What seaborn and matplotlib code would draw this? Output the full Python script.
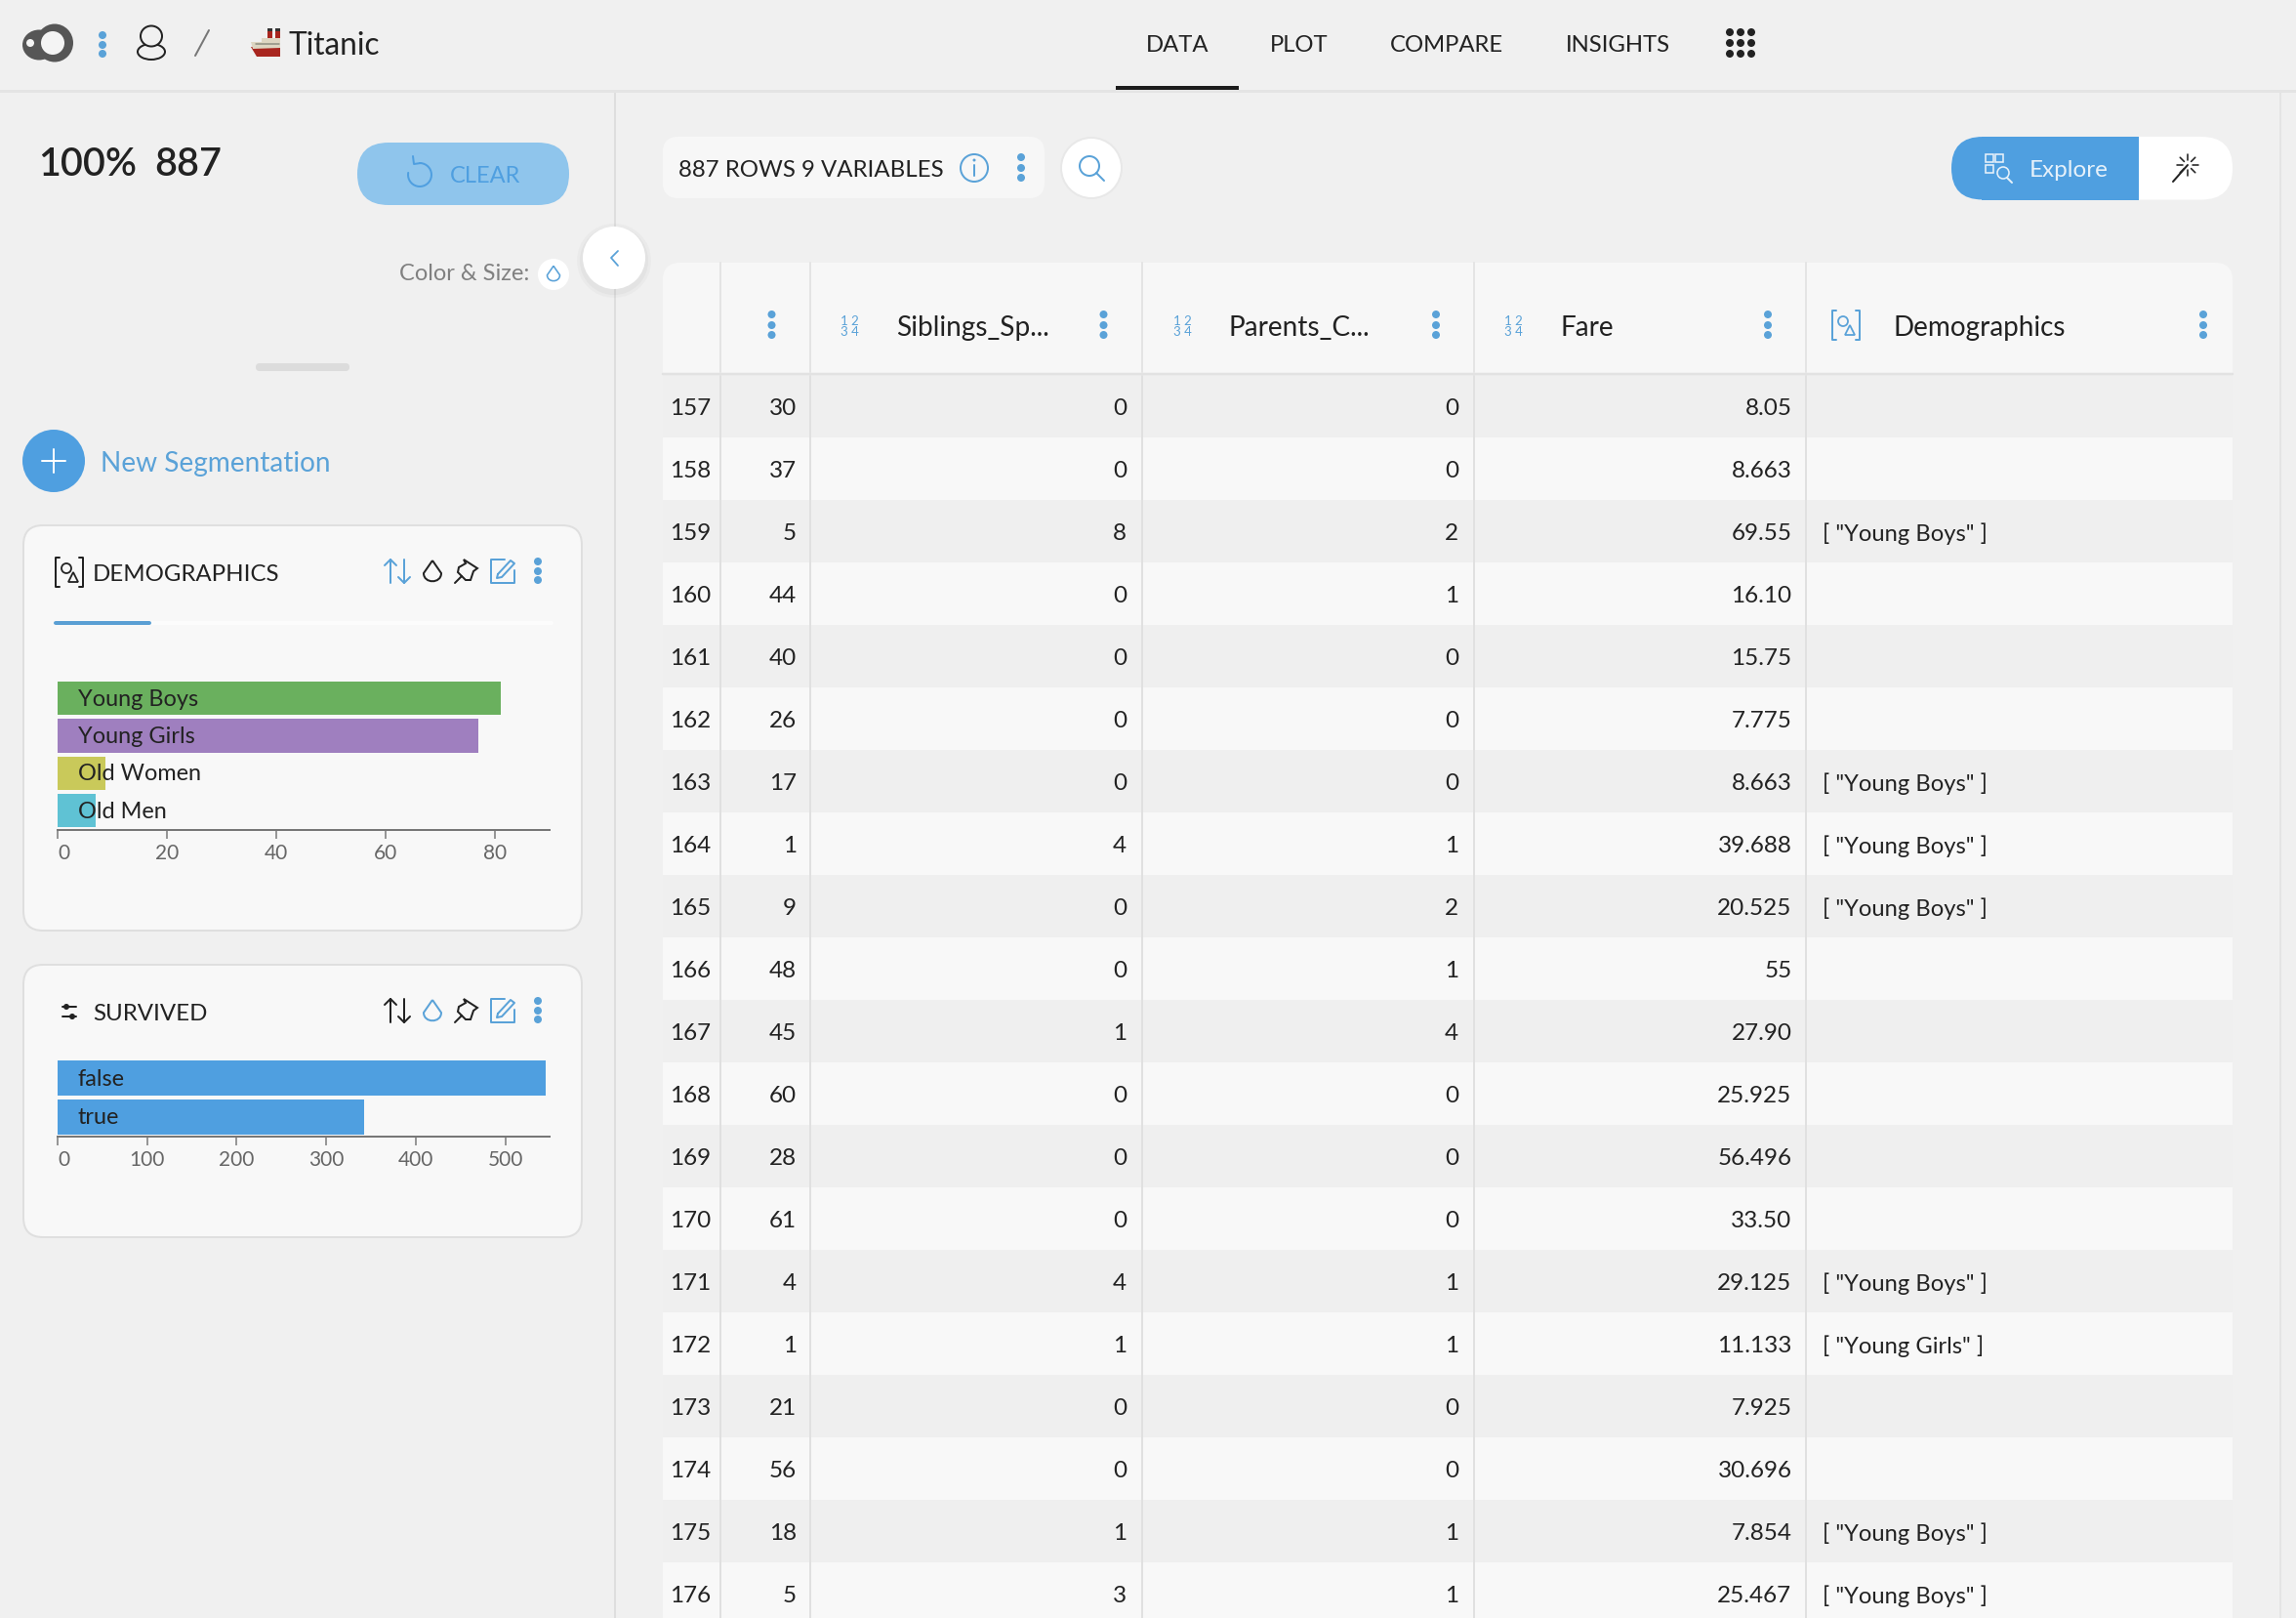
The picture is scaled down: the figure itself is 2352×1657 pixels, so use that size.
import numpy as np
import pandas as pd
import matplotlib
matplotlib.use('Agg')
import matplotlib.pyplot as plt
import seaborn as sns
from matplotlib.patches import Circle, Ellipse, FancyBboxPatch, PathPatch, Polygon, Rectangle
from matplotlib.path import Path

W, H = 2352, 1658

BG      = '#f0f0f0'
PANEL   = '#f8f8f8'
BLUE    = '#4f9fe0'
ICON    = '#5aa2d8'
INK     = '#222222'

# Left panel data
DEMO_LABELS = ['Young Boys', 'Young Girls', 'Old Women', 'Old Men']
DEMO_VALUES = [81, 77, 8.8, 7]
DEMO_COLORS = ['#6ab05e', '#9f7fbf', '#c9c95a', '#5fc2d4']
DEMO_TICKS  = [0, 20, 40, 60, 80]

SURV_LABELS = ['false', 'true']
SURV_VALUES = [545, 342]
SURV_TICKS  = [0, 100, 200, 300, 400, 500]

# Table data
ROW_IDS  = list(range(157, 177))
AGE      = [30, 37, 5, 44, 40, 26, 17, 1, 9, 48, 45, 60, 28, 61, 4, 1, 21, 56, 18, 5]
SIBLINGS = [0, 0, 8, 0, 0, 0, 0, 4, 0, 0, 1, 0, 0, 0, 4, 1, 0, 0, 1, 3]
PARENTS  = [0, 0, 2, 1, 0, 0, 0, 1, 2, 1, 4, 0, 0, 0, 1, 1, 0, 0, 1, 1]
FARE     = ['8.05', '8.663', '69.55', '16.10', '15.75', '7.775', '8.663', '39.688',
            '20.525', '55', '27.90', '25.925', '56.496', '33.50', '29.125', '11.133',
            '7.925', '30.696', '7.854', '25.467']
DEMO_COL = ['', '', '[ "Young Boys" ]', '', '', '', '[ "Young Boys" ]', '[ "Young Boys" ]',
            '[ "Young Boys" ]', '', '', '', '', '', '[ "Young Boys" ]', '[ "Young Girls" ]',
            '', '', '[ "Young Boys" ]', '[ "Young Boys" ]']

NAV_ITEMS = ['DATA', 'PLOT', 'COMPARE', 'INSIGHTS']
NAV_X     = [1206, 1331, 1482, 1657]

sns.set_theme(style='white')
plt.rcParams['font.family'] = ['Lato', 'DejaVu Sans']
plt.rcParams['savefig.facecolor'] = BG

fig = plt.figure(figsize=(W / 100, H / 100), dpi=100, facecolor=BG)
ui = fig.add_axes([0, 0, 1, 1])
ui.set_xlim(0, W)
ui.set_ylim(H, 0)
ui.axis('off')


# Small drawing helpers, all in screen pixels

def px(v):
    return v * 0.72


def txt(x, y, s, size=17, color=INK, ha='left', weight='normal', zorder=6):
    ui.text(x, y, s, fontsize=size, color=color, ha=ha, va='center_baseline',
            fontweight=weight, zorder=zorder)


def box(x0, y0, x1, y1, radius=0, fc=PANEL, ec='none', lw=0, zorder=2):
    if radius:
        p = FancyBboxPatch((x0 + radius, y0 + radius), x1 - x0 - 2 * radius, y1 - y0 - 2 * radius,
                           boxstyle=f'round,pad={radius}', fc=fc, ec=ec, lw=px(lw), zorder=zorder)
    else:
        p = Rectangle((x0, y0), x1 - x0, y1 - y0, fc=fc, ec=ec, lw=px(lw), zorder=zorder)
    ui.add_patch(p)


def line(xs, ys, color=INK, lw=2, zorder=7):
    ui.plot(xs, ys, color=color, lw=px(lw), solid_capstyle='round', solid_joinstyle='round', zorder=zorder)


def dots(x, ys, color=ICON, r=4):
    for y in ys:
        ui.add_patch(Circle((x, y), r, fc=color, ec='none', zorder=7))


def drop(x, y, color=INK, s=1.0, lw=2):
    verts = [(x, y - 12 * s), (x - 9 * s, y + 1 * s), (x - 9 * s, y + 12 * s), (x + 9 * s, y + 12 * s),
             (x + 9 * s, y + 1 * s), (x, y - 12 * s)]
    codes = [Path.MOVETO, Path.LINETO, Path.CURVE4, Path.CURVE4, Path.CURVE4, Path.LINETO]
    ui.add_patch(PathPatch(Path(verts, codes), fc='none', ec=color, lw=px(lw), zorder=7))


def sort_arrows(x, y, left, right):
    line([x - 7, x - 7], [y - 12, y + 12], left)
    line([x - 13, x - 7, x - 1], [y - 6, y - 12, y - 6], left)
    line([x + 7, x + 7], [y - 12, y + 12], right)
    line([x + 1, x + 7, x + 13], [y + 6, y + 12, y + 6], right)


def pin(x, y):
    pts = [(-3, -12), (11, -3), (7, 0), (4, 9), (-1, 9), (-9, 1), (-8, -4), (-1, -8)]
    ui.add_patch(Polygon([(x + a, y + b) for a, b in pts], closed=True, fc='none', ec=INK, lw=px(2), zorder=7))
    line([x - 5, x - 12], [y + 5, y + 12])


def edit(x, y):
    line([x + 2, x - 12, x - 12, x + 12, x + 12], [y - 12, y - 12, y + 12, y + 12, y - 1], ICON)
    line([x - 5, x + 8, x + 12, x - 1, x - 6, x - 5], [y + 3, y - 11, y - 8, y + 6, y + 7, y + 3], ICON)


def shapes_icon(x, y, color):
    line([x - 10, x - 14, x - 14, x - 10], [y - 15, y - 15, y + 15, y + 15], color)
    line([x + 10, x + 14, x + 14, x + 10], [y - 15, y - 15, y + 15, y + 15], color)
    ui.add_patch(Circle((x - 3, y - 4), 5, fc='none', ec=color, lw=px(1.8), zorder=7))
    ui.add_patch(Polygon([(x + 4, y), (x + 9, y + 10), (x - 1, y + 10)], closed=True, fc='none', ec=color, lw=px(1.8), zorder=7))


def num_icon(x, y):
    ui.text(x, y - 5.5, '1 2', fontsize=9.5, color=ICON, ha='center', va='center', zorder=6)
    ui.text(x, y + 5.5, '3 4', fontsize=9.5, color=ICON, ha='center', va='center', zorder=6)


# Header bar

line([0, W], [94, 94], '#e4e4e4', 3, zorder=3)
box(1143, 89, 1269, 93, fc='#1c1c1c', zorder=4)
for name, x in zip(NAV_ITEMS, NAV_X):
    txt(x, 44, name, size=17.2, ha='center')
for gx in (1772, 1783, 1794):
    dots(gx, (34, 45, 56), INK, r=4)

# logo blob
ui.add_patch(Ellipse((56, 45), 38, 39, fc='#565656', ec='none', zorder=5))
ui.add_patch(Ellipse((40, 47), 34, 31, fc='#565656', ec='none', zorder=5))
ui.add_patch(Circle((54, 45), 12, fc='#f4f4f4', ec='none', zorder=6))
ui.add_patch(Circle((31, 45), 4, fc='#f4f4f4', ec='none', zorder=6))
dots(105, (37, 47, 56), ICON)

# user icon
ui.add_patch(Ellipse((155, 54), 28, 16, fc='none', ec=INK, lw=px(2), zorder=6))
ui.add_patch(Ellipse((155, 38), 22, 21, fc=BG, ec=INK, lw=px(2), zorder=7))
line([214, 200], [32, 58], '#777777', 2)

# ship
ui.add_patch(Polygon([(257, 49), (287, 47), (287, 59), (263, 59)], closed=True, fc='#a8261f', ec='none', zorder=5))
ui.add_patch(Polygon([(257, 44), (268, 44), (268, 40), (287, 40), (287, 50), (259, 51)], closed=True, fc='#ddd6c2', ec='none', zorder=6))
line([262, 286], [46, 46], '#8d8d80', 1.5)
box(274, 31, 279, 40, fc='#a8261f', zorder=6)
box(282, 31, 287, 40, fc='#a8261f', zorder=6)
box(274, 30, 279, 33, fc='#333333', zorder=6.5)
box(282, 30, 287, 33, fc='#333333', zorder=6.5)
txt(295, 44, 'Titanic', size=22.8)

# Left panel

txt(39, 165, '100%', size=28.5, weight='semibold')
txt(158, 165, '887', size=28.5, weight='semibold')

box(366, 147, 583, 211, radius=32, fc='#8fc5ec')
txt(461, 178, 'CLEAR', size=17, color=BLUE)
theta = np.radians(np.arange(-90, 200, 10))
line(430 + 12 * np.cos(theta), 180 + 12 * np.sin(theta), BLUE)
line([423, 424, 431], [161, 169, 168], BLUE)

txt(542, 278, 'Color & Size:', size=17, color='#808080', ha='right')
ui.add_patch(Circle((567, 282), 16, fc='white', ec='none', zorder=4))
drop(567, 282, ICON, s=0.72, lw=1.6)

box(262, 373, 358, 381, radius=4, fc='#dcdcdc')

ui.add_patch(Circle((55, 473), 32, fc=BLUE, ec='none', zorder=4))
line([43, 67], [473, 473], 'white')
line([55, 55], [461, 485], 'white')
txt(103, 472, 'New Segmentation', size=20.2, color=ICON)

box(24, 539, 596, 954, radius=20, fc=PANEL, ec='#dfdfdf', lw=2)
box(24, 989, 596, 1268, radius=20, fc=PANEL, ec='#dfdfdf', lw=2)

shapes_icon(71, 587, INK)
txt(95, 586, 'DEMOGRAPHICS', size=17.3)
sort_arrows(407, 586, ICON, ICON)
drop(443, 587, INK)
pin(478, 586)
edit(515, 586)
dots(551, (576, 586, 595))
line([57, 565], [639, 639], '#fcfcfc', 4, zorder=3)
line([57, 153], [639, 639], '#5a9fd4', 4, zorder=4)

for ly, cx in ((1032, 68), (1042, 74)):
    line([64, 78], [ly, ly], INK, 2)
    ui.add_patch(Circle((cx, ly), 3, fc=INK, ec='none', zorder=7))
txt(95, 1036.5, 'SURVIVED', size=17.3)
sort_arrows(407, 1036, INK, INK)
drop(443, 1037, ICON)
pin(478, 1036)
edit(515, 1036)
dots(551, (1026, 1036, 1045))


# Bar charts

def bar_panel(labels, values, colors, ticks, xmax, top, bottom, width):
    ax = fig.add_axes([59 / W, 1 - bottom / H, (563 - 59) / W, (bottom - top) / H], facecolor='none', zorder=5)
    df = pd.DataFrame({'label': labels, 'value': values})
    sns.barplot(data=df, x='value', y='label', hue='label', palette=colors, order=labels,
                width=width, legend=False, saturation=1, edgecolor='none', linewidth=0, ax=ax)
    sns.despine(ax=ax, left=True)
    ax.set_xlim(0, xmax)
    ax.set_xlabel('')
    ax.set_ylabel('')
    ax.set_yticks([])
    ax.set_xticks(ticks)
    ax.spines['bottom'].set_color('#777777')
    ax.spines['bottom'].set_linewidth(px(2))
    ax.tick_params(axis='x', bottom=True, length=px(9), width=px(1.5), color='#777777',
                   labelsize=15, labelcolor='#666666', pad=px(5))
    ax.get_xticklabels()[0].set_ha('left')
    for i, label in enumerate(labels):
        ax.annotate(label, xy=(0, i), xytext=(px(20.5), px(2)), textcoords='offset points',
                    fontsize=16.9, color=INK, va='center_baseline', ha='left')
    return ax


bar_panel(DEMO_LABELS, DEMO_VALUES, DEMO_COLORS, DEMO_TICKS, 90, 697, 850.5, 0.89)
bar_panel(SURV_LABELS, SURV_VALUES, [BLUE, BLUE], SURV_TICKS, 549.5, 1085.5, 1164.5, 0.9)

# Divider and collapse button

line([630, 630], [94, H], '#dedede', 2, zorder=1)
line([2336, 2336], [94, H], '#e4e4e4', 2, zorder=1)
for r, a in ((38, 0.05), (35, 0.07)):
    ui.add_patch(Circle((629, 268), r, fc='#888888', alpha=a, ec='none', zorder=3))
ui.add_patch(Circle((629, 265), 32, fc='white', ec='none', zorder=4))
line([633, 626, 633], [258, 265, 273], ICON, 1.8)

# Toolbar above table

box(679, 141, 1070, 204, radius=16, fc='#f7f7f7')
txt(695, 172.5, '887 ROWS 9 VARIABLES', size=17.3)
ui.add_patch(Circle((998, 173), 14, fc='none', ec=ICON, lw=px(2), zorder=7))
line([998, 998], [170, 181], ICON, 2)
dots(998, (165,), ICON, r=1.5)
dots(1046, (162, 173, 183))
ui.add_patch(Circle((1118, 173), 31, fc='white', ec='#e8e8e8', lw=px(2), zorder=4))
ui.add_patch(Circle((1116, 171), 10, fc='none', ec=ICON, lw=px(2), zorder=7))
line([1123, 1131], [178, 186], ICON, 2)

box(1999, 141, 2287, 205.5, radius=32, fc='white')
box(1999, 141, 2060, 205.5, radius=32, fc=BLUE, zorder=3)
box(2030, 141, 2191, 205.5, fc=BLUE, zorder=3)
txt(2079, 172.5, 'Explore', size=17.5, color='#e6f1fa')
for bx, by in ((2034, 164), (2044, 164), (2034, 175)):
    ui.add_patch(Rectangle((bx, by - 5), 8, 8, fc='none', ec='#e6f1fa', lw=px(1.6), zorder=7))
ui.add_patch(Circle((2052, 178), 6, fc='none', ec='#e6f1fa', lw=px(1.6), zorder=7))
line([2056, 2061], [183, 188], '#e6f1fa', 2)
line([2226, 2241], [187, 170], INK, 2)
for a in np.radians(np.arange(0, 360, 45)):
    line([2241 + 5 * np.cos(a), 2241 + 11 * np.cos(a)], [170 + 5 * np.sin(a), 170 + 11 * np.sin(a)], INK, 1.6)

# Table

SEPARATORS = [738, 830, 1170, 1510, 1850]
DOTS_X     = [790.5, 1130.5, 1471, 1811, 2257]
TABLE_L, TABLE_R = 679, 2287
ROW_TOP, ROW_H   = 385, 64

box(TABLE_L, 270, TABLE_R, 400, radius=18, fc='#f7f7f7')

for i, row in enumerate(ROW_IDS):
    top = ROW_TOP + i * ROW_H
    box(TABLE_L, top, TABLE_R, top + ROW_H, fc='#efefef' if i % 2 == 0 else PANEL, zorder=2.5)
    y = top + ROW_H / 2 - 0.5
    txt(728.5, y, str(row), size=17.5, ha='right')
    txt(816, y, str(AGE[i]), size=17.5, ha='right')
    txt(1154, y, str(SIBLINGS[i]), size=17.5, ha='right')
    txt(1494, y, str(PARENTS[i]), size=17.5, ha='right')
    txt(1835.5, y, FARE[i], size=17.5, ha='right')
    if DEMO_COL[i]:
        txt(1867, y, DEMO_COL[i], size=17.1)

line([TABLE_L, TABLE_R], [384, 384], '#e2e2e2', 2.5, zorder=4)
for x in SEPARATORS:
    line([x, x], [270, 382], '#e4e4e4', 2, zorder=4)
    line([x, x], [386, H], '#e0e0e0', 2, zorder=4)
for x in DOTS_X:
    dots(x, (323, 334, 344))

num_icon(870.5, 334)
num_icon(1211, 334)
num_icon(1550.5, 334)
shapes_icon(1891, 334, ICON)
txt(918.5, 333, 'Siblings_Sp...', size=20.2)
txt(1258.5, 333, 'Parents_C...', size=20.2)
txt(1598.5, 333, 'Fare', size=20.2)
txt(1939, 333, 'Demographics', size=20.1)

fig.savefig('out.png', dpi=100, facecolor=BG)
